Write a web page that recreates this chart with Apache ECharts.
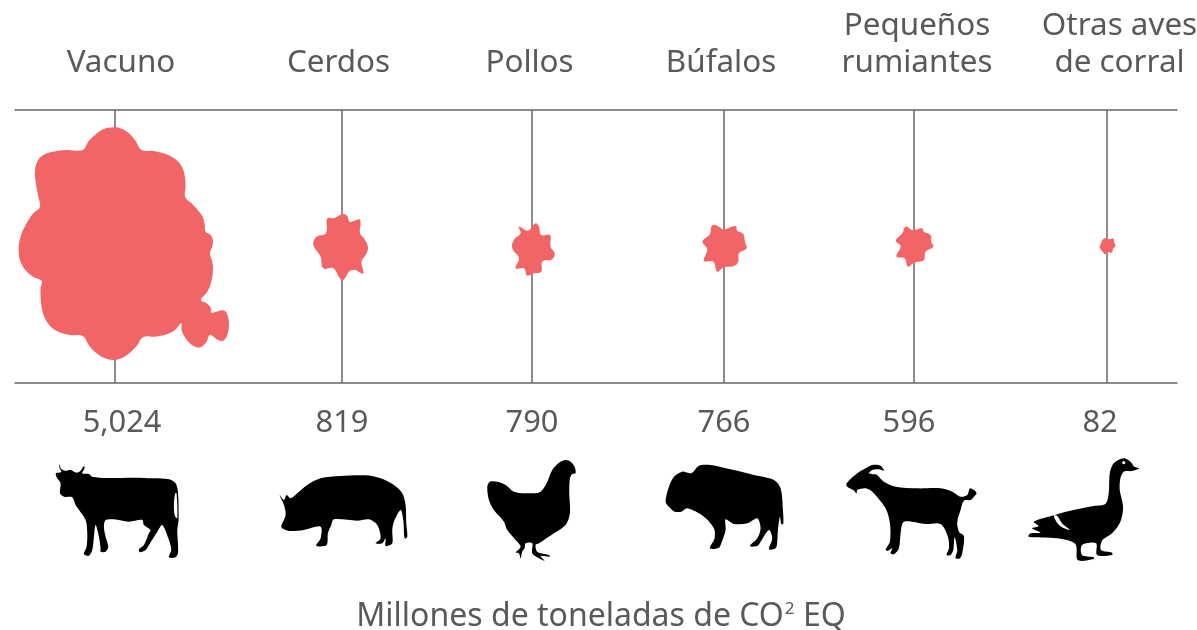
<!DOCTYPE html>
<html><head><meta charset="utf-8">
<style>html,body{margin:0;padding:0;background:#fff}#c{width:1197px;height:630px}</style>
<script src="https://cdn.jsdelivr.net/npm/echarts@6/dist/echarts.min.js"></script>
</head><body><div id="c"></div>
<script>
// ---- data ----
const categories = ['Vacuno','Cerdos','Pollos','Búfalos','Pequeños\nrumiantes','Otras aves\nde corral'];
const emissions  = [5024,819,790,766,596,82];
const unitLabel  = ['Millones de toneladas de CO','2',' EQ'];

// ---- layout (axis units are pixels along the chart) ----
const stemX   = [114.6,341.6,531.6,723.6,913.6,1106.4];
const headerX = [121,338.5,529.5,721,917,1119.5];
const numberX = [122,342,532,724,909,1100];
const blobRow = 135, numberRow = 313, iconRow = 400, headerBottom = -28, footerRow = 507, footerX = 601;

// ---- glyph outlines: offsets in thirds of a pixel, [originX, originY, x,y, x,y ...] ----
const blobShapes = [
 [344,435, 340,82,365,86,385,98,405,120,425,150,460,153,490,160,515,170,535,185,548,205,555,230,557,260,556,292,575,310,595,332,608,350,614,372,617,395,630,403,639,420,637,440,630,460,637,485,639,510,634,545,622,575,603,600,620,610,633,625,634,638,660,632,675,633,684,650,687,675,682,705,670,722,655,720,630,705,620,725,605,740,590,742,570,730,553,708,545,690,544,670,525,690,500,703,465,710,430,711,410,738,385,762,360,776,340,780,315,775,290,760,268,737,248,708,210,705,175,695,150,677,133,650,125,620,122,590,122,565,125,543,100,530,78,512,62,485,56,450,62,410,80,370,100,340,120,320,115,290,108,250,105,215,112,185,130,165,160,155,200,150,248,150,265,125,285,105,310,88],
 [125,135, 130,42,142,48,150,66,178,58,182,70,180,100,192,115,204,140,200,160,185,185,190,220,165,210,150,212,130,240,120,235,100,205,70,205,62,170,45,145,40,128,50,110,78,100,82,55,100,55,115,48],
 [693,135, 705,70,715,80,722,105,748,105,750,140,762,160,755,178,725,185,722,215,700,220,680,227,670,205,645,205,655,175,635,145,640,120,660,100,655,80,682,92],
 [99,105, 70,44,85,50,100,58,135,48,140,62,158,72,163,95,168,115,145,130,143,155,130,168,100,172,80,185,68,155,40,153,50,118,36,95,58,72,62,50],
 [669,105, 645,50,665,60,695,55,700,65,720,75,722,95,728,110,705,125,700,150,670,158,652,170,642,145,618,140,630,108,616,92,635,70],
 [1248,105, 1245,84,1258,88,1268,85,1272,98,1275,108,1268,116,1265,128,1252,126,1244,133,1236,124,1228,112,1232,100,1236,90]
];
const iconShapes = [
 [222,180, 58,42,60,55,72,62,90,60,108,68,120,62,130,48,132,55,125,70,145,72,155,80,200,84,280,83,340,85,385,88,405,100,412,125,414,210,410,240,412,280,412,310,405,322,385,322,392,300,385,270,365,225,350,245,325,285,315,300,298,307,295,298,310,285,325,250,330,240,310,225,305,210,265,215,220,208,195,210,190,230,195,260,203,290,195,305,180,305,180,295,175,260,165,225,160,260,155,300,145,317,130,312,138,290,140,250,135,210,105,165,95,142,70,140,58,130,60,100,48,82,46,70,62,66,56,52],
 [903,180, 717,135,730,150,738,135,750,145,770,130,800,105,840,85,900,78,975,76,1020,85,1060,105,1085,130,1095,165,1097,220,1100,260,1092,265,1088,210,1080,180,1060,215,1055,240,1055,280,1035,288,1035,265,1025,280,1005,280,1020,265,1010,225,985,208,950,212,880,208,872,225,862,250,858,285,827,287,840,265,840,230,790,240,745,243,725,235,722,228,735,195,730,165],
 [183,180, 285,30,300,35,312,50,315,70,305,72,298,85,296,130,298,190,285,225,250,250,205,280,195,285,200,305,235,315,238,320,210,318,222,332,205,325,185,310,185,280,165,280,162,295,155,305,150,325,145,310,135,308,150,290,135,270,110,240,100,215,70,180,55,150,50,110,58,95,80,95,105,105,130,125,180,130,210,125,228,100,245,60,265,38],
 [759,180, 585,155,595,110,610,80,635,65,662,70,685,47,720,45,780,58,850,75,910,90,930,115,937,180,938,222,932,222,928,200,922,240,918,290,908,298,895,297,905,265,895,240,870,275,860,288,838,288,860,265,870,235,860,205,830,220,790,222,765,208,765,240,752,280,745,293,718,295,732,265,730,235,700,200,650,175,632,185,612,185,595,170],
 [249,180, 48,100,80,70,105,55,125,45,150,47,160,62,145,58,125,60,115,70,135,72,160,95,195,110,260,115,330,115,365,125,390,140,410,135,418,115,430,120,438,130,430,140,420,150,400,152,390,180,380,215,385,245,400,258,395,310,388,325,375,325,380,300,372,262,368,300,360,315,348,315,355,295,352,260,330,222,285,222,220,215,210,250,205,295,190,313,180,310,185,295,170,303,165,298,178,275,178,220,165,175,125,125,105,115,80,120,78,130,68,120,50,110],
 [828,180, 880,25,900,35,912,50,927,55,905,63,880,65,870,85,868,120,878,170,870,215,845,250,815,272,812,300,845,308,845,315,800,315,797,280,755,285,755,315,790,322,790,327,742,330,735,282,680,265,595,260,600,250,630,248,605,235,625,228,610,215,665,197,720,182,790,168,825,162,835,130,838,70,850,40]
];
const iconCutouts = [
 [[222,180, 404,130,408,130,410,205,402,195,400,160]],
 [],[],[],
 [[249,180, 118,66,135,64,138,72,122,72]],
 [[828,180, 670,197,680,197,695,220,718,240,695,232,680,218],[828,180, 880,33,885,38,880,43,875,38]]
];

const INK='#58595b', RULE='#666769', BLOB='#f26566';
const FAMILY='"Noto Sans", sans-serif';
function polyPoints(shape, api, x, y){
  const c = api.coord([x,y]), pts=[];
  for(let i=2;i<shape.length;i+=2) pts.push([c[0]+(shape[i]-shape[0])/3, c[1]+(shape[i+1]-shape[1])/3]);
  return pts;
}
function textSeries(name, rows, size, va, extra){
  return {type:'custom',name,silent:true,clip:false,z:5,
    encode:{x:0,y:1},data:rows,
    renderItem:(p,api)=>{
      const c=api.coord([api.value(0),api.value(1)]);
      return {type:'text',style:Object.assign({text:rows[p.dataIndex][2],x:c[0],y:c[1],fill:INK,fontFamily:FAMILY,fontSize:size,
        align:'center',verticalAlign:va,lineHeight:37},extra||{})};
    }};
}
const axisCommon={type:'value',min:15,max:1177,axisTick:{show:false,customValues:stemX},axisLabel:{show:false},
  axisLine:{show:true,onZero:false,lineStyle:{color:RULE,width:1.5}}};
const option={
  animation:false,backgroundColor:'#fff',
  grid:{left:15,right:20,top:110,height:273,containLabel:false},
  xAxis:[Object.assign({},axisCommon,{position:'bottom',splitLine:{show:true,lineStyle:{color:RULE,width:1.5}}}),
         Object.assign({},axisCommon,{position:'top',splitLine:{show:false}})],
  yAxis:{type:'value',min:0,max:273,inverse:true,show:false,splitLine:{show:false}},
  series:[
    {type:'custom',name:'Emisiones',clip:false,z:3,encode:{x:0,y:1},
     data:emissions.map((v,i)=>[stemX[i],blobRow,v]),
     renderItem:(p,api)=>({type:'polygon',shape:{smooth:0.4,points:polyPoints(blobShapes[p.dataIndex],api,api.value(0),api.value(1))},style:{fill:BLOB}})},
    {type:'custom',name:'Iconos',silent:true,clip:false,z:3,encode:{x:0,y:1},
     data:categories.map((c,i)=>[stemX[i],iconRow]),
     renderItem:(p,api)=>{
       const x=api.value(0),y=api.value(1),kids=[{type:'polygon',shape:{smooth:0.3,points:polyPoints(iconShapes[p.dataIndex],api,x,y)},style:{fill:'#000'}}];
       iconCutouts[p.dataIndex].forEach(s=>kids.push({type:'polygon',shape:{smooth:0.3,points:polyPoints(s,api,x,y)},style:{fill:'#fff'}}));
       return {type:'group',children:kids};
     }},
    textSeries('Categorías',categories.map((c,i)=>[headerX[i],headerBottom,c]),31.4,'bottom'),
    textSeries('Valores',emissions.map((v,i)=>[numberX[i],numberRow,v.toLocaleString('en-US')]),30.8,'middle'),
    textSeries('Unidad',[[footerX,footerRow,'{a|'+unitLabel[0]+'}{s|'+unitLabel[1]+'}{a|'+unitLabel[2]+'}']],32,'middle',
      {rich:{a:{fontFamily:FAMILY,fontSize:32,lineHeight:37,fill:INK},s:{fontFamily:FAMILY,fontSize:17,lineHeight:37,fill:INK,verticalAlign:'top',padding:[2,0,0,1]}}})
  ]
};
echarts.init(document.getElementById('c')).setOption(option);
</script></body></html>
